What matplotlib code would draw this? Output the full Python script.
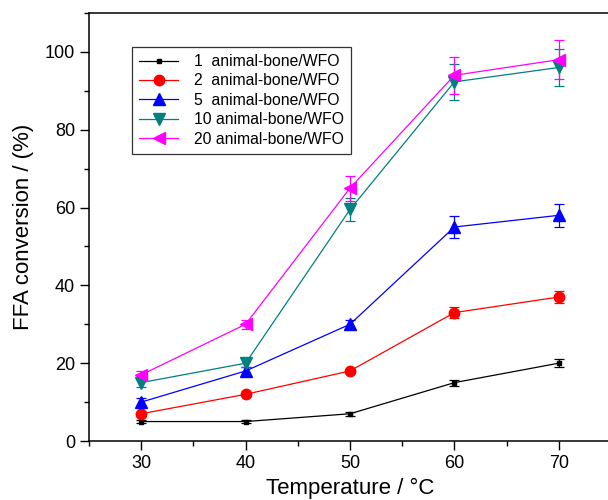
import matplotlib
matplotlib.use("Agg")
import matplotlib.pyplot as plt
from matplotlib.ticker import MultipleLocator

plt.rcParams['font.family'] = ['Liberation Sans', 'DejaVu Sans']

temps = [30, 40, 50, 60, 70]
labels = ["1  animal-bone/WFO", "2  animal-bone/WFO", "5  animal-bone/WFO",
          "10 animal-bone/WFO", "20 animal-bone/WFO"]
s1 = [5, 5, 7, 15, 20]
e1 = [0.5, 0.4, 0.5, 0.8, 1.0]
s2 = [7, 12, 18, 33, 37]
e2 = [0.5, 0.5, 0.5, 1.5, 1.5]
s5 = [10, 18, 30, 55, 58]
e5 = [1.0, 1.0, 1.2, 2.7, 3.0]
s10 = [15, 20, 59.5, 92.3, 96]
e10 = [1.0, 1.0, 3.0, 4.6, 4.8]
s20 = [17, 30, 65, 94, 98]
e20 = [1.0, 1.2, 3.2, 4.7, 5.0]

series = [s1, s2, s5, s10, s20]
errs = [e1, e2, e5, e10, e20]
colors = ['black', 'red', 'blue', '#008080', 'magenta']
markers = ['s', 'o', '^', 'v', '<']
msizes = [2.5, 7.5, 8, 8, 8]

fig = plt.figure(figsize=(6.08, 5.0), dpi=100)
ax = fig.add_axes([89/608, 59/500, (611-89)/608, 428/500])

handles = []
for y, e, c, m, ms, lab in zip(series, errs, colors, markers, msizes, labels):
    cont = ax.errorbar(temps, y, yerr=e, color=c, marker=m, markersize=ms, lw=0.9,
                       capsize=3.5, elinewidth=0.9, capthick=0.9)
    cont[0].set_label(lab)
    handles.append(cont[0])

ax.set_xlim(25, 75)
ax.set_ylim(0, 110)
ax.xaxis.set_major_locator(MultipleLocator(10))
ax.xaxis.set_minor_locator(MultipleLocator(5))
ax.yaxis.set_major_locator(MultipleLocator(20))
ax.yaxis.set_minor_locator(MultipleLocator(10))
ax.tick_params(which='major', direction='out', length=6.5, width=1, labelsize=13)
ax.tick_params(which='minor', direction='out', length=3.5, width=1)
for sp in ax.spines.values():
    sp.set_linewidth(1.1)

ax.set_xlabel("Temperature / °C", fontsize=16, labelpad=4)
ax.set_ylabel("FFA conversion / (%)", fontsize=16, labelpad=8)

leg = ax.legend(handles=handles, loc='upper left', bbox_to_anchor=(132/608, 1-47/500),
                bbox_transform=fig.transFigure, fontsize=11.3, frameon=True,
                fancybox=False, edgecolor='black', borderpad=0.45,
                labelspacing=0.28, handlelength=2.5, handletextpad=1.0,
                borderaxespad=0)
leg.get_frame().set_linewidth(0.9)

fig.savefig("out.png", dpi=100)
